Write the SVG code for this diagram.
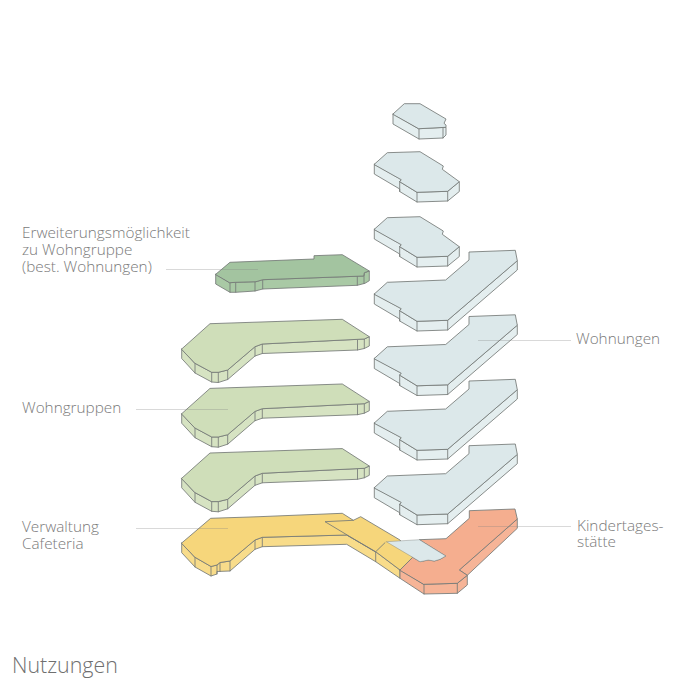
<svg xmlns="http://www.w3.org/2000/svg" width="692" height="692" viewBox="0 0 692 692">
  <style>
    text { font-family: "Open Sans", "Noto Sans", "Liberation Sans", sans-serif; font-weight: 300; fill: #7a7a7a; font-size: 15.3px; }
    .title { font-size: 21.4px; fill: #6f6f6f; }
    .edge { stroke: #757a77; stroke-width: 0.85; stroke-linejoin: round; stroke-linecap: round; }
    .wall { fill: none; }
    .blue { fill: #dce8ea; }
    .blue-s { fill: #e4eeef; }
    .green { fill: #cfdeb9; }
    .green-s { fill: #d6e3c2; }
    .dark { fill: #a3c4a0; }
    .dark-s { fill: #a9c9a5; }
    .yellow { fill: #f6d67b; }
    .yellow-s { fill: #f8dc8a; }
    .orange { fill: #f5ae8f; }
    .orange-s { fill: #f6b497; }
    .leader { stroke: #808080; stroke-width: 1; opacity: .3; fill: none; }
  </style>
  <defs>
    <!-- upper storey flat, stepped footprint -->
    <g id="flat-mid">
      <path class="edge blue-s" d="M374.3 164.3V174L399.7 189V191.5L417 202L447.7 201L459.3 191.5V181.7L447.7 191.3L417 192.3L399.7 181.7L401 180Z"/>
      <path class="edge wall" d="M399.7 181.7V191.5M417 192.3V202M447.7 191.3V201"/>
      <path class="edge blue" d="M374.3 164.3L387.3 152.7L420 151.7L443.3 166L442.3 169.3L459.3 181.7L447.7 191.3L417 192.3L399.7 181.7L401 180Z"/>
    </g>
    <!-- angled flat with the long east wing -->
    <g id="flat-long">
      <path class="edge blue-s" d="M374.3 294V304L399.7 319V321L417 331L447.7 330L517.3 270V260.7L447.7 320.3L417 321.3L399.7 310.7L401 309Z"/>
      <path class="edge wall" d="M399.7 310.7V321M417 321.3V331M447.7 320.3V330"/>
      <path class="edge blue" d="M374.3 294L387.3 282.3L445.7 280L469 260V252L515.3 250.3L517.3 260.7L447.7 320.3L417 321.3L399.7 310.7L401 309Z"/>
    </g>
    <!-- group-living floor -->
    <g id="group-floor">
      <path class="edge green-s" d="M181.7 349V358.5L195 373L211.7 382L218.3 382.5L227.7 379.5L255 356L262.3 353.5L357.5 350L364.3 348.5L369.3 346V336.7L364.3 339L262.3 344L255 346.7L227.7 370L218.3 372.3L211.7 372.3L195 363.3Z"/>
      <path class="edge wall" d="M195 363.3V373M211.7 372.3V382M218.3 372.3V382.5M227.7 370V379.5M255 346.7V356M262.3 344V353.5M357.5 340V350M364.3 339V348.5"/>
      <path class="edge green" d="M181.7 349L210 323.7L342.3 319.3L369.3 336.7L364.3 339L262.3 344L255 346.7L227.7 370L218.3 372.3L211.7 372.3L195 363.3Z"/>
    </g>
  </defs>

  <g id="flat-top">
    <path class="edge blue-s" d="M393 114V124L419 139L443 138L446 135V127.3L419 128.7Z"/>
    <path class="edge wall" d="M419 128.7V139M443 128V138"/>
    <path class="edge blue" d="M393 114L404.3 103.7L420 103.7L446 119L444 123.3L446 125V127.3L419 128.7Z"/>
  </g>
  <g id="flat-5"><use href="#flat-mid"/></g>
  <g id="flat-4"><use href="#flat-mid" transform="translate(0 65)"/></g>
  <g id="flat-3"><use href="#flat-long"/></g>
  <g id="flat-2"><use href="#flat-long" transform="translate(0 64.5)"/></g>
  <g id="flat-1"><use href="#flat-long" transform="translate(0 129)"/></g>
  <g id="flat-0"><use href="#flat-long" transform="translate(0 193.7)"/></g>

  <g id="extension-option">
    <path class="edge dark-s" d="M215.7 274.3V284L230 292.3L235.7 292.3L255 291L262.7 289L357.3 285.3L365 283.3L369.3 280.7V271L364.3 272.7L363.7 276L262.7 279.7L256 281.7L235.7 282.3L230 282.7Z"/>
    <path class="edge wall" d="M230 282.7V292.3M235.7 282.3V292.3M255 282V291M262.7 279.7V289M357.3 276V285.3M364 274V283.5"/>
    <path class="edge dark" d="M215.7 274.3L230 262.3L314 259V255.7L342.3 254.7L369.3 271L364.3 272.7L363.7 276L262.7 279.7L256 281.7L235.7 282.3L230 282.7Z"/>
  </g>
  <g id="group-upper"><use href="#group-floor"/></g>
  <g id="group-mid"><use href="#group-floor" transform="translate(0 64.7)"/></g>
  <g id="group-lower"><use href="#group-floor" transform="translate(0 129.3)"/></g>

  <g id="administration-cafeteria">
    <path class="edge yellow-s" d="M181.7 543V552.7L195 567L211 576L217 574V571.5L230 571L255 549.3L262.3 546.7L346.7 544.3L375.7 561.7L400 578.3V570L375.7 551.7L346.7 535L262.3 537.3L255 540L230 561L220 562.5L217 565L211 566.5L195 557.3Z"/>
    <path class="edge wall" d="M195 557.3V567M211 566.5V576M217 565V574M220 562.5V571.5M230 561V571M255 540V549.3M262.3 537.3V546.7M375.7 551.7V561.7"/>
    <path class="edge yellow" d="M181.7 543L210.7 518.3L259 516.7L342.3 513.3L353.3 520.3L360.7 516.7L400 540L412.7 557.3L400 570L375.7 551.7L346.7 535L262.3 537.3L255 540L230 561L220 562.5L217 565L211 566.5L195 557.3Z"/>
    <path class="edge wall" d="M353.3 520.3L325 521.7L375 551.7M385 542.7L375.7 551.7"/>
  </g>
  <g id="daycare">
    <path class="edge orange-s" d="M400 570V578.3L424 594L457.3 593.3L467.3 585V575.3L517.3 528.3V519L459.3 570L467.3 575.3L457.3 583.3L424 584.3Z"/>
    <path class="edge wall" d="M424 584.3V594M457.3 583.3V593.3"/>
    <path class="edge orange" d="M400 570L412.7 557.3L420 561.7L428.3 560L434.3 561L440 559.3L445.7 556L419.3 539.7L446 538.7L469.3 518.3V510.7L515 509L517.3 519L459.3 570L467.3 575.3L457.3 583.3L424 584.3Z"/>
    <path class="edge blue" d="M386.7 541.7L419.3 539.7L445.7 556L440 559.3L434.3 561L428.3 560L420 561.7L412.7 557.3Z" style="stroke-width:.4"/>
  </g>

  <g id="connectors">
    <path class="leader" d="M166 269.5H258M136 409.5H228M136 528.5H228M478 340.5H571M478 526.5H571"/>
  </g>

  <g id="label-extension">
    <text x="22" y="237.5">Erweiterungsmöglichkeit</text>
    <text x="22" y="254.5">zu Wohngruppe</text>
    <text x="22" y="271.5">(best. Wohnungen)</text>
  </g>
  <g id="label-groups"><text x="22" y="413">Wohngruppen</text></g>
  <g id="label-admin">
    <text x="22" y="531.5">Verwaltung</text>
    <text x="22" y="548.5">Cafeteria</text>
  </g>
  <g id="label-flats"><text x="576" y="344">Wohnungen</text></g>
  <g id="label-daycare">
    <text x="577" y="530.5">Kindertages-</text>
    <text x="577" y="546.5">stätte</text>
  </g>
  <text class="title" x="12" y="673">Nutzungen</text>
</svg>
